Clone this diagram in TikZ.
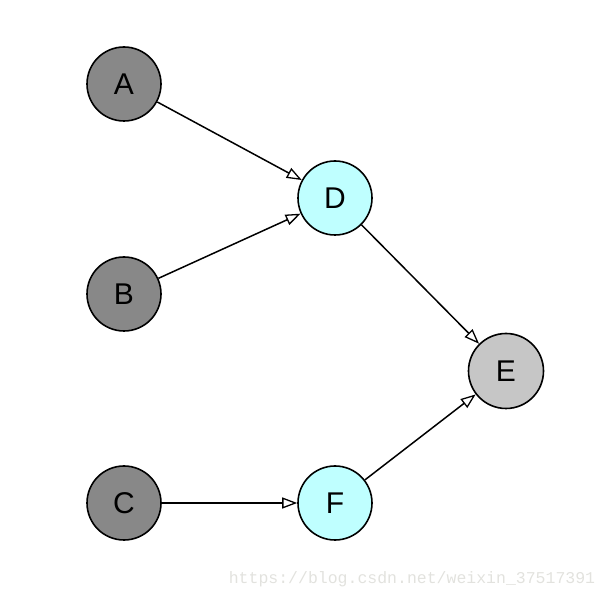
\documentclass[tikz,border=0pt]{standalone}
\usepackage{fontspec}
\setmainfont{Liberation Sans}
\newfontfamily\wmfont{Liberation Mono}
\usetikzlibrary{arrows.meta}
\definecolor{darkg}{HTML}{888888}
\definecolor{cyanl}{HTML}{BFFFFF}
\definecolor{lightg}{HTML}{C6C6C6}
\definecolor{wm}{HTML}{E2E2DE}
\begin{document}
\begin{tikzpicture}[x=1pt,y=1pt,
  vtx/.style={circle, draw=black, line width=1.6pt, minimum size=74pt, inner sep=0pt, font=\fontsize{30}{32}\selectfont},
  edge/.style={line width=1.5pt, -{Triangle[open, length=15pt, width=11pt, line width=1.3pt]}}]
\useasboundingbox (0,0) rectangle (608,600);
\node[vtx, fill=darkg] (A) at (124,516) {A};
\node[vtx, fill=darkg] (B) at (124,306) {B};
\node[vtx, fill=darkg] (C) at (124,97) {C};
\node[vtx, fill=cyanl] (D) at (335,402) {D};
\node[vtx, fill=lightg, minimum size=75pt] (E) at (506,229) {E};
\node[vtx, fill=cyanl] (F) at (335,97) {F};
\draw[edge] (A) -- (D);
\draw[edge] (B) -- (D);
\draw[edge] (D) -- (E);
\draw[edge] (C) -- (F);
\draw[edge] (F) -- (E);
\node[text=wm, font=\wmfont\fontsize{16.5}{18}\selectfont, inner sep=0pt] (wmk) at (412,21) {https://blog.csdn.net/weixin\_37517391};
\end{tikzpicture}
\end{document}
